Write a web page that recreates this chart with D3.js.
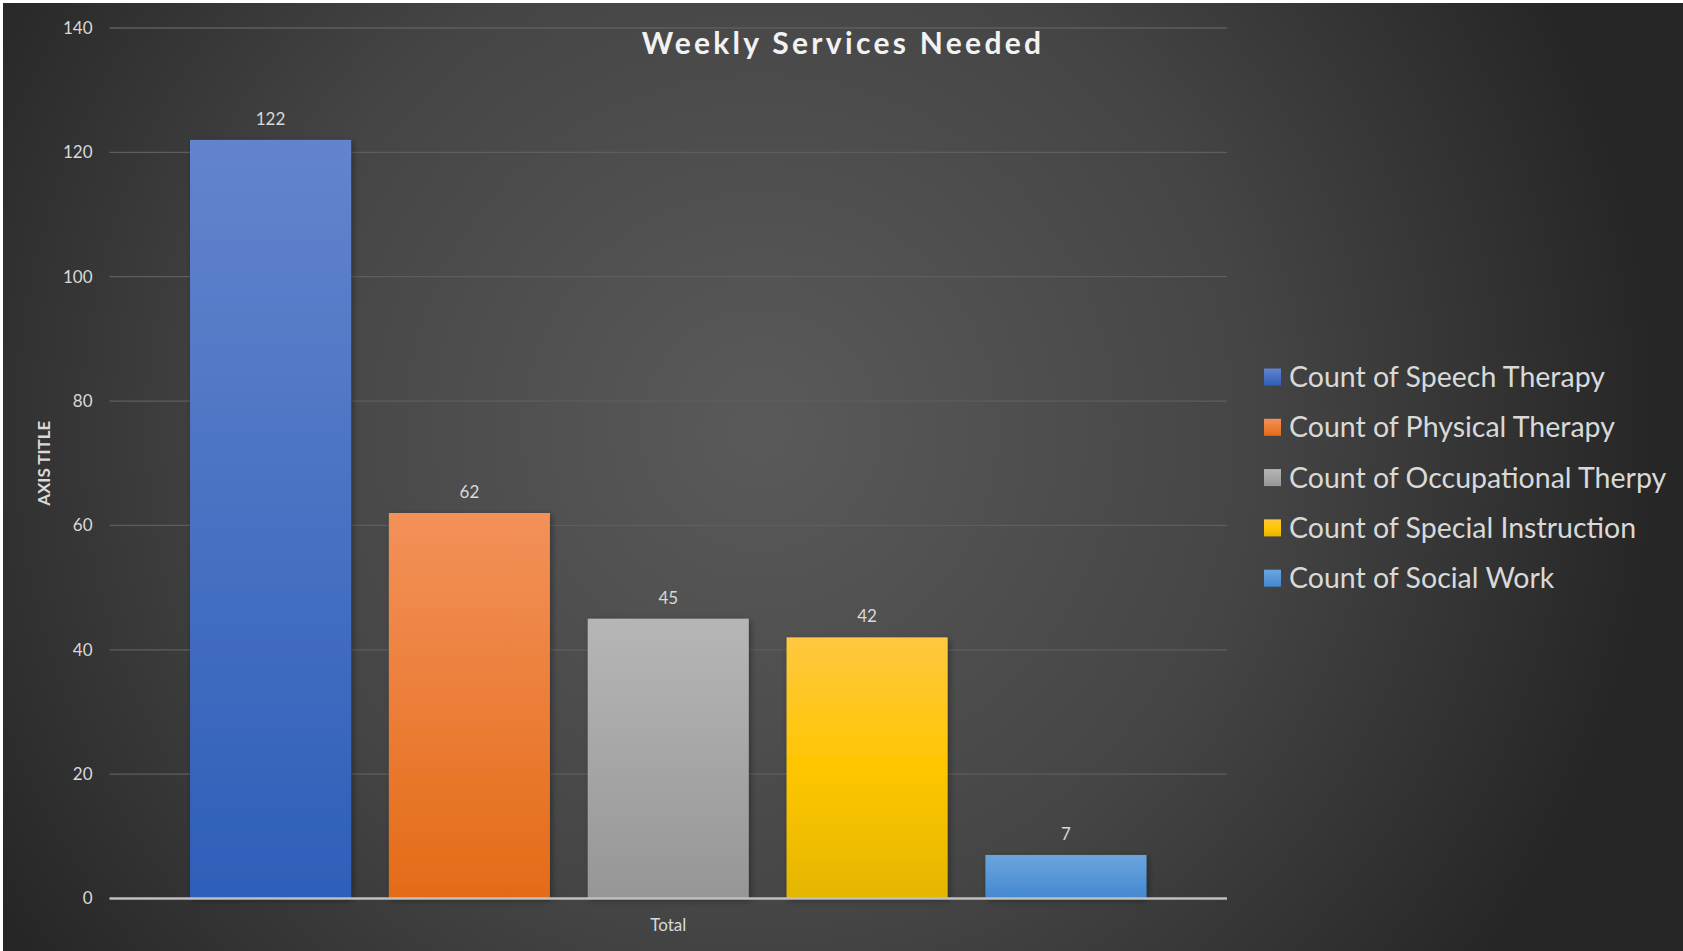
<!DOCTYPE html>
<html lang="en">
<head>
<meta charset="UTF-8">
<script src="https://d3js.org/d3.v7.min.js"></script>
<title>Weekly Services Needed</title>
<style>
  body { margin: 0; background: #fff; }
  svg { display: block; font-family: Lato, "Open Sans", sans-serif; }
</style>
</head>
<body>
<svg width="1683" height="951"></svg>
<script>
// data
const categories = ['Total'];
const series = ['Count of Speech Therapy', 'Count of Physical Therapy', 'Count of Occupational Therpy',
                'Count of Special Instruction', 'Count of Social Work'];
const values = [122, 62, 45, 42, 7];
const yTicks = [0, 20, 40, 60, 80, 100, 120, 140];

// colours (top, bottom of each bar gradient)
const colTop = ['#6384cd', '#f39159', '#b6b6b6', '#ffc840', '#6ba5de'];
const colBot = ['#2e5fb9', '#e46b17', '#969696', '#e4b600', '#4388d0'];

const svg = d3.select('svg');
const W = 1683, H = 951;
const plotL = 109.5, plotR = 1227, plotT = 28, plotB = 898.5;

const defs = svg.append('defs');
const bg = defs.append('radialGradient').attr('id', 'bg')
  .attr('gradientUnits', 'userSpaceOnUse')
  .attr('cx', 760).attr('cy', 430).attr('r', 900);
bg.append('stop').attr('offset', '0').attr('stop-color', '#5a5a5a');
bg.append('stop').attr('offset', '0.55').attr('stop-color', '#454545');
bg.append('stop').attr('offset', '1').attr('stop-color', '#262626');

series.forEach((s, i) => {
  const g = defs.append('linearGradient').attr('id', 'g' + i)
    .attr('x1', 0).attr('y1', 0).attr('x2', 0).attr('y2', 1);
  g.append('stop').attr('offset', '0').attr('stop-color', colTop[i]);
  if (i === 3) g.append('stop').attr('offset', '0.5').attr('stop-color', '#ffc600');
  g.append('stop').attr('offset', '1').attr('stop-color', colBot[i]);
});

const sh = defs.append('filter').attr('id', 'shadow')
  .attr('x', '-10%').attr('y', '-10%').attr('width', '130%').attr('height', '130%');
sh.append('feDropShadow').attr('dx', 2).attr('dy', 2).attr('stdDeviation', 3)
  .attr('flood-color', '#000').attr('flood-opacity', 0.35);

// background with thin white strip at top/left
svg.append('rect').attr('width', W).attr('height', H).attr('fill', '#fff');
svg.append('rect').attr('x', 3).attr('y', 3).attr('width', W - 3).attr('height', H - 3).attr('fill', 'url(#bg)');

// scales
const y = d3.scaleLinear().domain([0, 140]).range([plotB, plotT]);
const x0 = d3.scaleBand().domain(categories).range([plotL, plotR]).paddingOuter(0.062);
const x1 = d3.scaleBand().domain(series).range([0, x0.bandwidth()]).paddingInner(0.19).paddingOuter(0.095);

// grid
svg.append('g').selectAll('line').data(yTicks.filter(d => d > 0)).join('line')
  .attr('x1', plotL).attr('x2', plotR)
  .attr('y1', d => y(d)).attr('y2', d => y(d))
  .attr('stroke', '#5e5e5e').attr('stroke-width', 1.3);

// y axis labels
const yAxis = svg.append('g').attr('transform', `translate(${plotL},0)`)
  .call(d3.axisLeft(y).tickValues(yTicks).tickSize(0).tickPadding(17));
yAxis.select('.domain').remove();
yAxis.selectAll('text').attr('fill', '#d9d9d9').style('font-size', '17px')
  .style('font-family', 'Lato, sans-serif');

// bars
const bars = svg.append('g').attr('transform', `translate(${x0('Total')},0)`);
bars.selectAll('rect').data(values).join('rect')
  .attr('x', (d, i) => x1(series[i]))
  .attr('y', d => y(d))
  .attr('width', x1.bandwidth())
  .attr('height', d => y(0) - y(d))
  .attr('fill', (d, i) => `url(#g${i})`)
  .attr('filter', 'url(#shadow)');

bars.selectAll('text').data(values).join('text')
  .attr('x', (d, i) => x1(series[i]) + x1.bandwidth() / 2)
  .attr('y', d => y(d) - 15)
  .attr('text-anchor', 'middle')
  .attr('fill', '#d9d9d9').style('font-size', '17px')
  .text(d => d);

// x axis
svg.append('line').attr('x1', plotL).attr('x2', plotR)
  .attr('y1', y(0)).attr('y2', y(0))
  .attr('stroke', '#bfbfbf').attr('stroke-width', 2.5);
const xAxis = svg.append('g').attr('transform', `translate(0,${y(0)})`)
  .call(d3.axisBottom(x0).tickSize(0).tickPadding(20));
xAxis.select('.domain').remove();
xAxis.selectAll('text').attr('fill', '#d9d9d9').style('font-size', '17px')
  .style('font-family', 'Lato, sans-serif');

// axis title
svg.append('text')
  .attr('transform', `translate(50,${(plotT + plotB) / 2}) rotate(-90)`)
  .attr('text-anchor', 'middle')
  .attr('fill', '#d9d9d9').style('font-size', '17px').style('font-weight', 'bold')
  .text('AXIS TITLE');

// title
svg.append('text')
  .attr('x', 843).attr('y', 54)
  .attr('text-anchor', 'middle')
  .attr('fill', '#f2f2f2').style('font-size', '30px').style('font-weight', 'bold')
  .style('letter-spacing', '3.3px')
  .text('Weekly Services Needed');

// legend
const leg = svg.append('g');
const li = leg.selectAll('g').data(series).join('g')
  .attr('transform', (d, i) => `translate(1264,${377 + i * 50.3})`);
li.append('rect').attr('x', 0).attr('y', -8.5).attr('width', 17).attr('height', 17)
  .attr('fill', (d, i) => `url(#g${i})`);
li.append('text').attr('x', 25).attr('y', 10)
  .attr('fill', '#d9d9d9').style('font-size', '28.5px')
  .text(d => d);
</script>
</body>
</html>
